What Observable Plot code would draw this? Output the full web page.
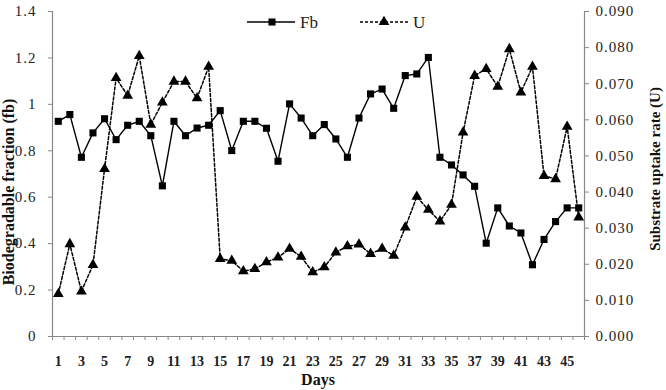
<!DOCTYPE html>
<html><head><meta charset="utf-8">
<script src="https://cdn.jsdelivr.net/npm/d3@7"></script>
<script src="https://cdn.jsdelivr.net/npm/@observablehq/plot@0.6"></script>
<style>body{margin:0;background:#fff;} #chart{width:666px;height:390px;}</style>
</head><body><div id="chart"></div>
<script>
const days = [1,2,3,4,5,6,7,8,9,10,11,12,13,14,15,16,17,18,19,20,21,22,23,24,25,26,27,28,29,30,31,32,33,34,35,36,37,38,39,40,41,42,43,44,45,46];
const fb = [0.927,0.956,0.772,0.877,0.938,0.848,0.910,0.927,0.865,0.649,
            0.927,0.865,0.898,0.910,0.973,0.801,0.927,0.927,0.897,0.755,
            1.002,0.941,0.865,0.913,0.851,0.772,0.941,1.045,1.066,0.983,
            1.124,1.131,1.202,0.772,0.739,0.696,0.647,0.402,0.554,0.476,
            0.446,0.309,0.418,0.495,0.554,0.554];
const u = [0.0118,0.0256,0.0125,0.0198,0.0464,0.0716,0.0667,0.0777,0.0587,0.0648,
           0.0706,0.0706,0.0660,0.0747,0.0215,0.0210,0.0181,0.0187,0.0206,0.0219,
           0.0243,0.0221,0.0178,0.0192,0.0233,0.0250,0.0255,0.0229,0.0243,0.0224,
           0.0302,0.0387,0.0351,0.0319,0.0365,0.0565,0.0722,0.0741,0.0692,0.0796,
           0.0676,0.0747,0.0445,0.0436,0.0581,0.0330];
const leftTicks = [0,0.2,0.4,0.6,0.8,1,1.2,1.4];
const rightTicks = [0,0.01,0.02,0.03,0.04,0.05,0.06,0.07,0.08,0.09];
const xLabels = [1,3,5,7,9,11,13,15,17,19,21,23,25,27,29,31,33,35,37,39,41,43,45];
const seriesNames = ["Fb","U"];
const xTitle = "Days";
const yLeftTitle = "Biodegradable fraction (fb)";
const yRightTitle = "Substrate uptake rate (U)";

const K = 1.4 / 0.09;
const data = days.map((d, i) => ({day: d, fb: fb[i], u: u[i]}));
const tickMarks = days.map(d => d - 0.5).concat([days[days.length - 1] + 0.5]);

const svg = Plot.plot({
  width: 666, height: 390,
  marginLeft: 52, marginRight: 82, marginTop: 11, marginBottom: 54,
  x: {domain: [0.5, 46.5]},
  y: {domain: [0, 1.4]},
  style: {fontFamily: "Liberation Serif", fontSize: "15px", color: "#222", background: "#fff"},
  marks: [
    Plot.axisY(leftTicks, {anchor: "left", tickSize: 4, tickPadding: 12, stroke: "#888", fill: "#222", label: null, tickFormat: d => String(d)}),
    Plot.axisY(rightTicks.map(v => v * K), {anchor: "right", tickSize: 4, tickPadding: 7, stroke: "#888", fill: "#222", label: null, tickFormat: v => (v / K).toFixed(3)}),
    Plot.axisX(xLabels, {anchor: "bottom", tickSize: 0, tickPadding: 20, fill: "#222", label: null, fontWeight: "bold", fontSize: 14}),
    Plot.axisX(tickMarks, {anchor: "bottom", tickSize: 4, stroke: "#888", tickFormat: () => "", label: null}),
    Plot.ruleY([0], {stroke: "#888", strokeWidth: 1.2}),
    Plot.ruleX([0.5, 46.5], {stroke: "#888", strokeWidth: 1.2}),
    Plot.line(data, {x: "day", y: "fb", stroke: "black", strokeWidth: 1.4}),
    Plot.line(data, {x: "day", y: d => d.u * K, stroke: "black", strokeWidth: 1.5, strokeDasharray: "3,2"}),
    Plot.dot(data, {x: "day", y: "fb", symbol: "square", fill: "black", r: 4}),
    Plot.dot(data, {x: "day", y: d => d.u * K, symbol: "triangle", fill: "black", r: 4})
  ]
});
document.getElementById("chart").appendChild(svg);

const s = d3.select(svg);
s.selectAll('[aria-label="y-axis tick label"] text').style("letter-spacing", "1px");

// axis titles
s.append("text").attr("x", 318).attr("y", 385).attr("text-anchor", "middle")
  .attr("font-family", "Liberation Serif").attr("font-weight", "bold").attr("font-size", 16).attr("fill", "#111").text(xTitle);
s.append("text").attr("transform", "translate(14,192) rotate(-90)").attr("text-anchor", "middle")
  .attr("font-family", "Liberation Serif").attr("font-weight", "bold").attr("font-size", 16).attr("fill", "#111").text(yLeftTitle);
s.append("text").attr("transform", "translate(650,169) rotate(-90)").attr("text-anchor", "middle").attr("dominant-baseline", "hanging")
  .attr("font-family", "Liberation Serif").attr("font-weight", "bold").attr("font-size", 15).attr("fill", "#111").text(yRightTitle);

// legend
const lg = s.append("g").attr("text-anchor", "start");
lg.append("line").attr("x1", 247).attr("x2", 295).attr("y1", 22).attr("y2", 22).attr("stroke", "black").attr("stroke-width", 1.4);
lg.append("path").attr("transform", "translate(272,22)").attr("d", d3.symbol(d3.symbolSquare, 16 * Math.PI)()).attr("fill", "black");
lg.append("text").attr("x", 300).attr("y", 28).attr("text-anchor", "start").attr("font-family", "Liberation Serif").attr("font-size", 17).attr("fill", "#222").text(seriesNames[0]);
lg.append("line").attr("x1", 360).attr("x2", 410).attr("y1", 22).attr("y2", 22).attr("stroke", "black").attr("stroke-width", 1.5).attr("stroke-dasharray", "3,2");
lg.append("path").attr("transform", "translate(384,22)").attr("d", d3.symbol(d3.symbolTriangle, 16 * Math.PI)()).attr("fill", "black");
lg.append("text").attr("x", 413).attr("y", 28).attr("text-anchor", "start").attr("font-family", "Liberation Serif").attr("font-size", 17).attr("fill", "#222").text(seriesNames[1]);
</script>
</body></html>
